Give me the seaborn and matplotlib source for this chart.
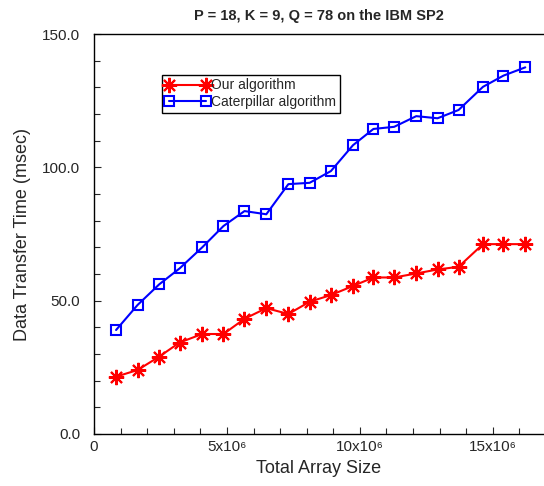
import numpy as np
import pandas as pd
import seaborn as sns
import matplotlib
matplotlib.use('Agg')
import matplotlib.pyplot as plt
from matplotlib.ticker import MultipleLocator, FixedLocator, FixedFormatter

# data
array_size = [0.83e6, 1.64e6, 2.45e6, 3.22e6, 4.07e6, 4.87e6, 5.66e6, 6.48e6, 7.31e6, 8.11e6,
              8.91e6, 9.74e6, 10.51e6, 11.29e6, 12.12e6, 12.92e6, 13.71e6, 14.63e6, 15.40e6, 16.22e6]
our_algo = [21.5, 24.0, 29.0, 34.3, 37.5, 37.5, 43.2, 47.2, 45.0, 49.6,
            52.1, 55.5, 58.7, 58.7, 60.2, 61.7, 62.7, 71.2, 71.2, 71.2]
caterpillar = [39.0, 48.4, 56.1, 62.1, 70.0, 78.0, 83.6, 82.4, 93.7, 94.2,
               98.6, 108.3, 114.4, 115.2, 119.2, 118.4, 121.5, 130.2, 134.4, 137.5]
x_ticks = [0, 5e6, 10e6, 15e6]
x_ticklabels = ['0', '5x10\u2076', '10x10\u2076', '15x10\u2076']

df = pd.DataFrame({'size': array_size, 'ours': our_algo, 'cat': caterpillar})

sns.set_style('ticks')
plt.rcParams['font.family'] = ['Liberation Sans', 'DejaVu Sans']

fig = plt.figure(figsize=(5.44, 4.86), dpi=100)
ax = fig.add_axes([0.1728, 0.107, 0.826, 0.823])

sns.lineplot(data=df, x='size', y='ours', ax=ax, color='#ff0000', marker=(8, 2, 0),
             markersize=11, markeredgecolor='#ff0000', markeredgewidth=1.5,
             linewidth=1.5, label='Our algorithm')
sns.lineplot(data=df, x='size', y='cat', ax=ax, color='#0000ff', marker='s',
             markersize=7, markerfacecolor='none', markeredgecolor='#0000ff',
             markeredgewidth=1.5, linewidth=1.5, label='Caterpillar algorithm')

ax.set_xlim(0, 16.9e6)
ax.set_ylim(0, 150)

ax.xaxis.set_major_locator(FixedLocator(x_ticks))
ax.xaxis.set_major_formatter(FixedFormatter(x_ticklabels))
ax.xaxis.set_minor_locator(MultipleLocator(1e6))
ax.yaxis.set_major_locator(MultipleLocator(50))
ax.yaxis.set_major_formatter(matplotlib.ticker.FormatStrFormatter('%.1f'))
ax.yaxis.set_minor_locator(MultipleLocator(10))

ax.tick_params(which='both', direction='in', top=False, right=False, labelsize=11, width=0.8)
ax.tick_params(which='major', length=5)
ax.tick_params(which='minor', length=4)
ax.tick_params(axis='x', pad=4)
ax.tick_params(axis='y', pad=10)

for s in ['left', 'bottom', 'top']:
    ax.spines[s].set_linewidth(1.0)
    ax.spines[s].set_color('black')
ax.spines['right'].set_visible(False)

ax.set_xlabel('Total Array Size', fontsize=13, labelpad=5)
ax.set_ylabel('Data Transfer Time (msec)', fontsize=13, labelpad=8)
ax.set_title('P = 18, K = 9, Q = 78 on the IBM SP2', fontsize=10.5, fontweight='bold', pad=10)

leg = ax.legend(loc='upper left', bbox_to_anchor=(0.151, 0.8975), borderaxespad=0,
                fontsize=10, fancybox=False, numpoints=2, handlelength=3.2,
                handletextpad=0.1, borderpad=0.25, labelspacing=0.2, framealpha=1)
leg.get_frame().set_edgecolor('black')
leg.get_frame().set_linewidth(1.0)

fig.savefig('out.png', dpi=100)
